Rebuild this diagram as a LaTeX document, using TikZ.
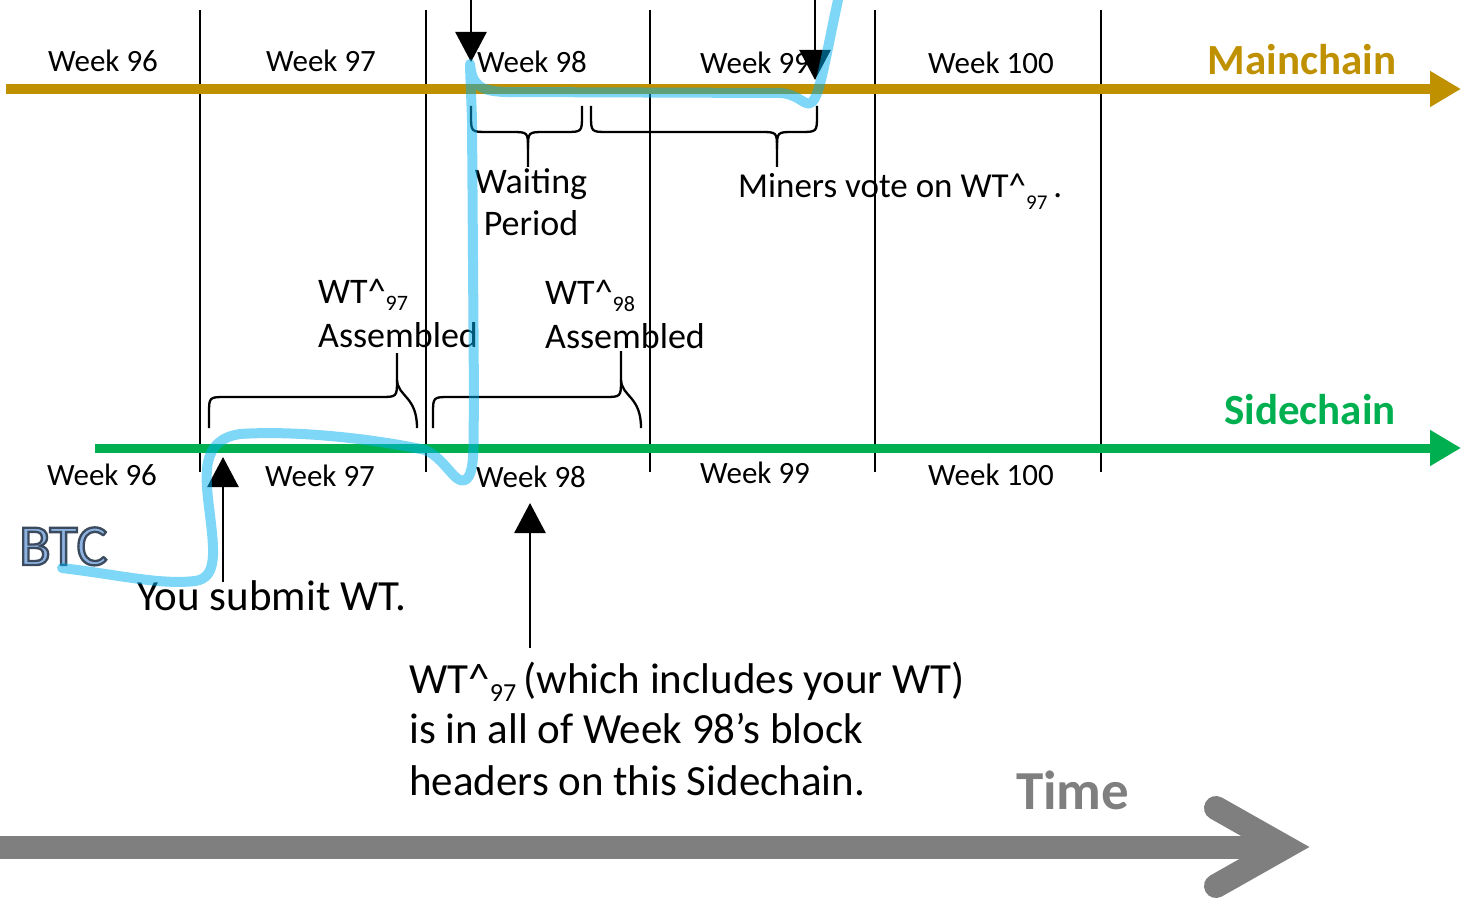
\documentclass[tikz,border=0pt]{standalone}
\usepackage{fontspec}
\setmainfont{Carlito}
\newfontface\btcface[FakeBold=4]{Carlito}
\usetikzlibrary{arrows.meta}
\definecolor{gold}{HTML}{BF9000}
\definecolor{sgreen}{HTML}{00B050}
\definecolor{flow}{HTML}{00B0F0}
\definecolor{timegray}{HTML}{7F7F7F}
\definecolor{btcfill}{HTML}{8DB3E2}
\newcommand{\myfs}[1]{\fontsize{#1}{#1}\selectfont}
\newcommand{\mysub}[2]{\raisebox{#2}{\myfs{#1}97}}
\begin{document}
\begin{tikzpicture}[x=1pt,y=-1pt,
  weeklbl/.style={font=\myfs{31}, inner sep=0, anchor=base},
  vline/.style={line width=2.6pt},
  bracep/.style={line width=2.3pt, line join=round},
  flowp/.style={draw=flow, opacity=0.5, line width=10pt, line cap=round, line join=round},
  ptr/.style={line width=2.6pt, -{Triangle[length=30pt,width=31pt]}},
  lbl/.style={inner sep=0, anchor=base west}]
\useasboundingbox (0,0) rectangle (1461,901);

% vertical week separators
\foreach \x/\n in {200/a,426/b,650/c,875/d,1101/e}{
  \coordinate (vt\n) at (\x,10);
  \coordinate (vb\n) at (\x,472);
  \draw[vline] (vt\n) -- (vb\n);
}

% chains
\coordinate (mcs) at (6,89);
\coordinate (mce) at (1461,89);
\draw[gold, line width=10pt, -{Triangle[length=31pt,width=34pt]}] (mcs) -- (mce);
\coordinate (scs) at (95,448);
\coordinate (sce) at (1461,448);
\draw[sgreen, line width=9pt, -{Triangle[length=31pt,width=34pt]}] (scs) -- (sce);

% week labels
\node[weeklbl] (tw96) at (103,72) {Week 96};
\node[weeklbl] (tw97) at (321,72) {Week 97};
\node[weeklbl] (tw98) at (532,73) {Week 98};
\node[weeklbl] (tw99) at (755,74) {Week 99};
\node[weeklbl] (tw100) at (991,74) {Week 100};
\node[weeklbl] (bw96) at (102,485) {Week 96};
\node[weeklbl] (bw97) at (320,486) {Week 97};
\node[weeklbl] (bw98) at (531,487) {Week 98};
\node[weeklbl] (bw99) at (755,483) {Week 99};
\node[weeklbl] (bw100) at (991,485) {Week 100};

\node[inner sep=0, anchor=base, font=\myfs{43}\bfseries, text=gold] (mainlbl) at (1302,75) {Mainchain};
\node[inner sep=0, anchor=base, font=\myfs{43}\bfseries, text=sgreen] (sidelbl) at (1310,424) {Sidechain};

% top braces
\draw[bracep] (471,106) -- (471,115) .. controls (471,132) .. (488,132) -- (511,132) .. controls (528,132) .. (528,149) -- (528,167);
\draw[bracep] (528,149) .. controls (528,132) .. (545,132) -- (565,132) .. controls (582,132) .. (582,115) -- (582,106);
\draw[bracep] (591,106) -- (591,115) .. controls (591,132) .. (608,132) -- (760,132) .. controls (777,132) .. (777,149) -- (777,167);
\draw[bracep] (777,149) .. controls (777,132) .. (794,132) -- (800,132) .. controls (817,132) .. (817,115) -- (817,106);

% lower braces
\draw[bracep] (209,428) -- (209,414) .. controls (209,397) .. (226,397) -- (380,397) .. controls (397,397) .. (397,380) -- (397,353);
\draw[bracep] (397,380) .. controls (398,397) and (417,396) .. (417,428);
\draw[bracep] (433,428) -- (433,414) .. controls (433,397) .. (450,397) -- (604,397) .. controls (621,397) .. (621,380) -- (621,351);
\draw[bracep] (621,380) .. controls (622,397) and (641,396) .. (641,428);

% brace labels
\node[inner sep=0, anchor=base, font=\myfs{36}] (wait1) at (531,194) {Waiting};
\node[inner sep=0, anchor=base, font=\myfs{36}] (wait2) at (531,236) {Period};
\node[lbl, font=\myfs{35}] (miners) at (738,198) {Miners vote on WT\textasciicircum\mysub{21}{-0.33em}\,.};
\node[lbl, font=\myfs{36}] (wt97) at (318,303) {WT\textasciicircum\mysub{22}{-0.2em}};
\node[lbl, font=\myfs{36}] (as97) at (318,347) {Assembled};
\node[lbl, font=\myfs{36}] (wt98) at (545,304) {WT\textasciicircum\raisebox{-0.2em}{\myfs{22}98}};
\node[lbl, font=\myfs{36}] (as98) at (545,348) {Assembled};

% pointer arrows
\coordinate (da1s) at (471,0);
\coordinate (da1e) at (471,62);
\draw[ptr] (da1s) -- (da1e);
\coordinate (da2s) at (815,0);
\coordinate (da2e) at (815,80);
\draw[ptr] (da2s) -- (da2e);
\coordinate (ua1s) at (223,582);
\coordinate (ua1e) at (223,457);
\draw[ptr] (ua1s) -- (ua1e);
\coordinate (ua2s) at (530,648);
\coordinate (ua2e) at (530,503);
\draw[ptr] (ua2s) -- (ua2e);

% bottom texts
\node[lbl, font=\myfs{43}] (submit) at (137,610) {You submit WT.};
\node[lbl, font=\myfs{43}] (info1) at (409,693) {WT\textasciicircum\mysub{26}{-0.2em}\,(which includes your WT)};
\node[lbl, font=\myfs{43}] (info2) at (409,743) {is in all of Week 98’s block};
\node[lbl, font=\myfs{43}] (info3) at (409,795) {headers on this Sidechain.};

% BTC (filled, outlined lettering)
\node[lbl] (btc) at (19,565) {\myfs{58}\color{btcfill}\special{pdf:code 0.23 0.29 0.36 RG}\btcface BTC};

% flow path
\draw[flowp] (62,568) .. controls (120,575) and (160,585) .. (195,581)
  .. controls (218,578) and (214,550) .. (210,515)
  .. controls (205,475) and (200,440) .. (240,434)
  .. controls (300,430) and (380,440) .. (425,450)
  .. controls (445,458) and (455,485) .. (465,480)
  .. controls (476,475) and (473,440) .. (474,400)
  -- (472,120) .. controls (471,90) and (470,70) .. (470,64)
  .. controls (472,85) and (480,91) .. (505,92)
  -- (780,93) .. controls (800,94) and (805,108) .. (812,102)
  .. controls (820,95) and (825,60) .. (838,0);

% time arrow
\coordinate (ts) at (0,847);
\coordinate (te) at (1285,847);
\coordinate (tu) at (1216,808);
\coordinate (tl) at (1216,886);
\draw[timegray, line width=23pt] (ts) -- (te);
\draw[timegray, line width=24pt, line cap=round, line join=miter] (tu) -- (te) -- (tl);
\node[lbl, font=\myfs{55}\bfseries, text=timegray] (timelbl) at (1016,809) {Time};
\end{tikzpicture}
\end{document}
